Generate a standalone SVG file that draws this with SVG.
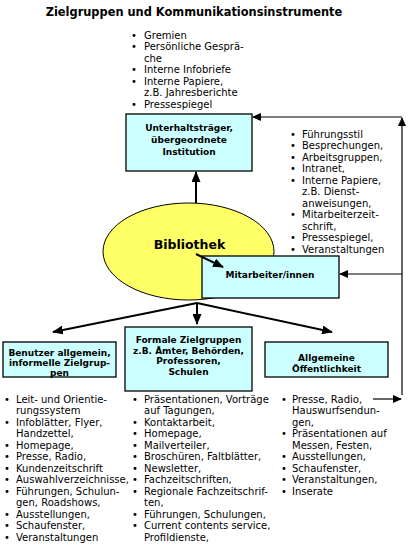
<svg xmlns="http://www.w3.org/2000/svg" width="418" height="546" viewBox="0 0 418 546">
<style>
.t{font-family:"DejaVu Sans",Verdana,sans-serif;font-size:10px;fill:#000}
.b{font-family:"DejaVu Sans",Verdana,sans-serif;font-size:9px;font-weight:bold;fill:#000;text-anchor:middle}
.box{fill:#ccffff;stroke:#000;stroke-width:1.3}
.thick{stroke:#000;stroke-width:2;fill:none}
.thin{stroke:#000;stroke-width:1.2;fill:none}
</style>
<defs>
<marker id="ah" markerUnits="userSpaceOnUse" markerWidth="11" markerHeight="9" refX="10" refY="4.5" orient="auto"><path d="M0,0 L11,4.5 L0,9 z" fill="#000"/></marker>
<marker id="as" markerUnits="userSpaceOnUse" markerWidth="9" markerHeight="8" refX="8" refY="4" orient="auto"><path d="M0,0 L9,4 L0,8 z" fill="#000"/></marker>
</defs>
<rect width="418" height="546" fill="#fff"/>
<text x="194" y="16" style="font-family:'DejaVu Sans',Verdana,sans-serif;font-size:11.4px;font-weight:bold" text-anchor="middle">Zielgruppen und Kommunikationsinstrumente</text>

<g id="list-top" class="t">
<text x="131" y="38.5">•</text><text x="144" y="38.5">Gremien</text>
<text x="131" y="50">•</text><text x="144" y="50">Persönliche Gesprä-</text>
<text x="144" y="61.5">che</text>
<text x="131" y="73">•</text><text x="144" y="73">Interne Infobriefe</text>
<text x="131" y="84.5">•</text><text x="144" y="84.5">Interne Papiere,</text>
<text x="144" y="96">z.B. Jahresberichte</text>
<text x="131" y="107.5">•</text><text x="144" y="107.5">Pressespiegel</text>
</g>

<g id="list-right" class="t">
<text x="290" y="137.5">•</text><text x="302" y="137.5">Führungsstil</text>
<text x="290" y="149">•</text><text x="302" y="149">Besprechungen,</text>
<text x="290" y="160.5">•</text><text x="302" y="160.5">Arbeitsgruppen,</text>
<text x="290" y="172">•</text><text x="302" y="172">Intranet,</text>
<text x="290" y="183.5">•</text><text x="302" y="183.5">Interne Papiere,</text>
<text x="302" y="195">z.B. Dienst-</text>
<text x="302" y="206.5">anweisungen,</text>
<text x="290" y="218">•</text><text x="302" y="218">Mitarbeiterzeit-</text>
<text x="302" y="229.5">schrift,</text>
<text x="290" y="241">•</text><text x="302" y="241">Pressespiegel,</text>
<text x="290" y="252.5">•</text><text x="302" y="252.5">Veranstaltungen</text>
</g>

<g id="unterhaltstraeger">
<rect class="box" x="126" y="114" width="126" height="57"/>
<text class="b" x="189" y="131">Unterhaltsträger,</text>
<text class="b" x="189" y="143">übergeordnete</text>
<text class="b" x="189" y="155">Institution</text>
</g>

<g id="bibliothek">
<ellipse cx="188.5" cy="251.5" rx="85.5" ry="48.5" fill="#ffff66" stroke="#000" stroke-width="1"/>
<text x="189.5" y="249" style="font-family:'DejaVu Sans',Verdana,sans-serif;font-size:12.5px;font-weight:bold" text-anchor="middle">Bibliothek</text>
</g>

<g id="mitarbeiter">
<rect class="box" x="202" y="256" width="137" height="42"/>
<text class="b" x="270" y="277.5">Mitarbeiter/innen</text>
</g>

<g id="benutzer">
<rect class="box" x="3" y="342" width="113" height="35"/>
<text class="b" x="59.5" y="356">Benutzer allgemein,</text>
<text class="b" x="59.5" y="366">informelle Zielgrup-</text>
<text class="b" x="59.5" y="375.5">pen</text>
</g>

<g id="formale">
<rect class="box" x="125" y="327" width="127" height="64"/>
<text class="b" x="188.5" y="342.5">Formale Zielgruppen</text>
<text class="b" x="188.5" y="353.5">z.B. Ämter, Behörden,</text>
<text class="b" x="188.5" y="364">Professoren,</text>
<text class="b" x="188.5" y="374.5">Schulen</text>
</g>

<g id="oeffentlichkeit">
<rect class="box" x="265" y="342" width="123" height="35"/>
<text class="b" x="326.5" y="360.5">Allgemeine</text>
<text class="b" x="326.5" y="371.5">Öffentlichkeit</text>
</g>

<g id="list-left" class="t">
<text x="4" y="402.5">•</text><text x="16" y="402.5">Leit- und Orientie-</text>
<text x="16" y="414">rungssystem</text>
<text x="4" y="425.5">•</text><text x="16" y="425.5">Infoblätter, Flyer,</text>
<text x="16" y="437">Handzettel,</text>
<text x="4" y="448.5">•</text><text x="16" y="448.5">Homepage,</text>
<text x="4" y="460">•</text><text x="16" y="460">Presse, Radio,</text>
<text x="4" y="471.5">•</text><text x="16" y="471.5">Kundenzeitschrift</text>
<text x="4" y="483">•</text><text x="16" y="483">Auswahlverzeichnisse,</text>
<text x="4" y="494.5">•</text><text x="16" y="494.5">Führungen, Schulun-</text>
<text x="16" y="506">gen, Roadshows,</text>
<text x="4" y="517.5">•</text><text x="16" y="517.5">Ausstellungen,</text>
<text x="4" y="529">•</text><text x="16" y="529">Schaufenster,</text>
<text x="4" y="540.5">•</text><text x="16" y="540.5">Veranstaltungen</text>
</g>

<g id="list-middle" class="t">
<text x="132" y="402.5">•</text><text x="144" y="402.5">Präsentationen, Vorträge</text>
<text x="144" y="414">auf Tagungen,</text>
<text x="132" y="425.5">•</text><text x="144" y="425.5">Kontaktarbeit,</text>
<text x="132" y="437">•</text><text x="144" y="437">Homepage,</text>
<text x="132" y="448.5">•</text><text x="144" y="448.5">Mailverteiler,</text>
<text x="132" y="460">•</text><text x="144" y="460">Broschüren, Faltblätter,</text>
<text x="132" y="471.5">•</text><text x="144" y="471.5">Newsletter,</text>
<text x="132" y="483">•</text><text x="144" y="483">Fachzeitschriften,</text>
<text x="132" y="494.5">•</text><text x="144" y="494.5">Regionale Fachzeitschrif-</text>
<text x="144" y="506">ten,</text>
<text x="132" y="517.5">•</text><text x="144" y="517.5">Führungen, Schulungen,</text>
<text x="132" y="529">•</text><text x="144" y="529">Current contents service,</text>
<text x="144" y="540.5">Profildienste,</text>
</g>

<g id="list-public" class="t">
<text x="281" y="402.5">•</text><text x="292" y="402.5">Presse, Radio,</text>
<text x="292" y="414">Hauswurfsendun-</text>
<text x="292" y="425.5">gen,</text>
<text x="281" y="437">•</text><text x="292" y="437">Präsentationen auf</text>
<text x="292" y="448.5">Messen, Festen,</text>
<text x="281" y="460">•</text><text x="292" y="460">Ausstellungen,</text>
<text x="281" y="471.5">•</text><text x="292" y="471.5">Schaufenster,</text>
<text x="281" y="483">•</text><text x="292" y="483">Veranstaltungen,</text>
<text x="281" y="494.5">•</text><text x="292" y="494.5">Inserate</text>
</g>

<g id="connectors">
<line class="thick" x1="196" y1="203" x2="196" y2="172" marker-end="url(#ah)"/>
<line class="thick" x1="196" y1="254" x2="223" y2="267" marker-end="url(#ah)"/>
<line class="thick" x1="197" y1="303" x2="53" y2="332" marker-end="url(#ah)"/>
<line class="thick" x1="197" y1="303" x2="197" y2="324" marker-end="url(#ah)"/>
<line class="thick" x1="197" y1="303" x2="332" y2="332" marker-end="url(#ah)"/>
<line class="thin" x1="402" y1="395" x2="402" y2="118" marker-end="url(#as)"/>
<line class="thin" x1="402" y1="117" x2="253" y2="117" marker-end="url(#as)"/>
<line class="thin" x1="402" y1="274" x2="340" y2="274" marker-end="url(#as)"/>
<line class="thin" x1="373" y1="399" x2="401" y2="399" marker-end="url(#as)"/>
</g>
</svg>
